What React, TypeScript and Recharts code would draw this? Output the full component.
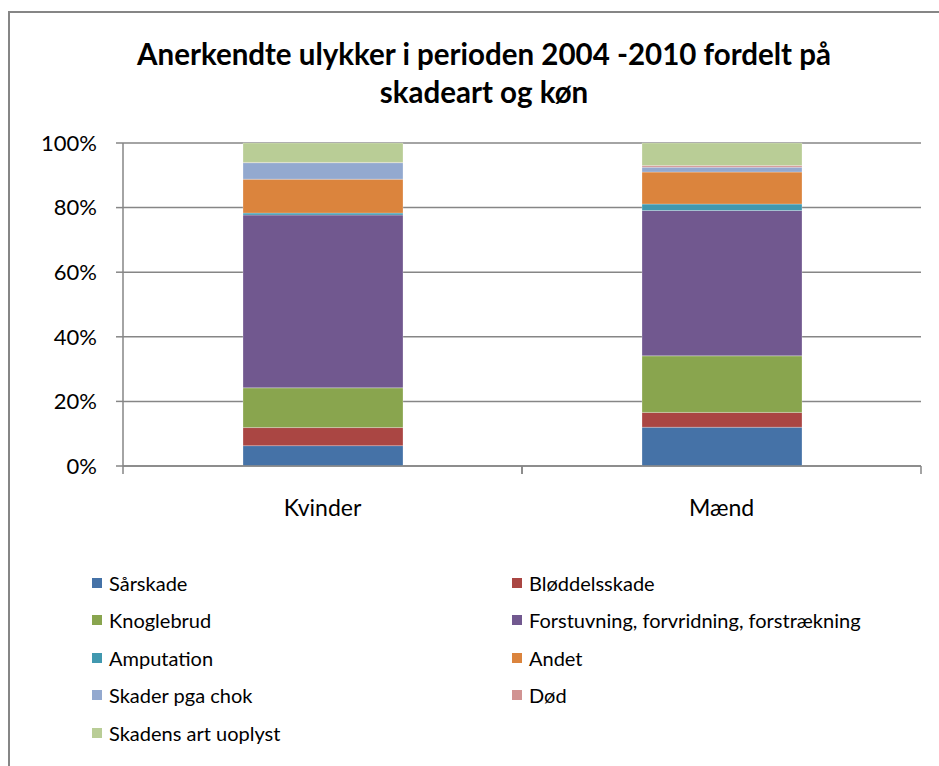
import React from 'react';
import { BarChart, Bar, XAxis, YAxis, CartesianGrid } from 'recharts';

const categories = ['Kvinder', 'Mænd'];
const seriesNames = [
    'Sårskade',
    'Bløddelsskade',
    'Knoglebrud',
    'Forstuvning, forvridning, forstrækning',
    'Amputation',
    'Andet',
    'Skader pga chok',
    'Død',
    'Skadens art uoplyst'
];
const seriesColors = ['#4572A7', '#AA4643', '#89A54E', '#71588F', '#4198AF', '#DB843D', '#93A9CF', '#D19392', '#B9CD96'];
const kvinderValues = [6.3, 5.6, 12.3, 53.5, 0.6, 10.5, 5.1, 0.1, 6.0];
const maendValues = [12.0, 4.6, 17.5, 45.0, 2.0, 9.9, 1.5, 0.5, 7.0];
const yTicks = [0, 0.2, 0.4, 0.6, 0.8, 1];

const W = 939;
const H = 766;
const PLOT_LEFT = 123;
const PLOT_RIGHT = 921;
const PLOT_TOP = 143;
const PLOT_BOTTOM = 466;
const X_AXIS_H = 60;
const Y_AXIS_W = 60;
const FONT = 'Lato, "Open Sans", sans-serif';
const GRAY = '#868686';

const data = categories.map((cat, ci) => {
    const values = ci === 0 ? kvinderValues : maendValues;
    const row: Record<string, string | number> = { cat };
    seriesNames.forEach((name, si) => { row[`s${si}`] = values[si]; });
    return row;
});

function XTick(props: any) {
    const { x, payload } = props;
    const half = (PLOT_RIGHT - PLOT_LEFT) / categories.length / 2;
    return (
        <g>
            <line x1={x - half} x2={x - half} y1={PLOT_BOTTOM} y2={PLOT_BOTTOM + 8} stroke={GRAY} strokeWidth={1.5} />
            <line x1={x + half} x2={x + half} y1={PLOT_BOTTOM} y2={PLOT_BOTTOM + 8} stroke={GRAY} strokeWidth={1.5} />
            <text x={x} y={PLOT_BOTTOM + 50} textAnchor="middle" fontSize={23} fill="#000" fontFamily={FONT}>
                {payload.value}
            </text>
        </g>
    );
}

export default function App(): JSX.Element {
    return (
        <div style={{ position: 'fixed', left: 0, top: 0, width: W, height: H, overflow: 'hidden', background: '#fff', fontFamily: FONT }}>
            <div style={{ position: 'absolute', left: 8, top: 11, width: 1000, height: 1000, borderLeft: `2px solid ${GRAY}`, borderTop: `2px solid ${GRAY}` }} />
            <div style={{ position: 'absolute', left: 34, top: 35, width: 900, textAlign: 'center', fontWeight: 700, fontSize: 29.5, lineHeight: '38px', color: '#000' }}>
                Anerkendte ulykker i perioden 2004 -2010 fordelt på<br />skadeart og køn
            </div>
            <div style={{ position: 'absolute', left: 0, top: 0 }}>
                <BarChart
                    width={W}
                    height={H}
                    data={data}
                    stackOffset="expand"
                    barSize={160}
                    margin={{ top: PLOT_TOP, right: W - PLOT_RIGHT, bottom: H - PLOT_BOTTOM - X_AXIS_H, left: PLOT_LEFT - Y_AXIS_W }}
                >
                    <CartesianGrid vertical={false} stroke={GRAY} strokeWidth={1.5} />
                    <XAxis dataKey="cat" height={X_AXIS_H} tickLine={false} stroke={GRAY} strokeWidth={1.5} tick={<XTick />} interval={0} />
                    <YAxis
                        width={Y_AXIS_W}
                        domain={[0, 1]}
                        ticks={yTicks}
                        tickFormatter={(v: number) => `${Math.round(v * 100)}%`}
                        stroke={GRAY}
                        strokeWidth={1.5}
                        tickSize={7}
                        tickMargin={19}
                        tick={{ fill: '#000', fontSize: 22, fontFamily: FONT }}
                    />
                    {seriesNames.map((name, si) => (
                        <Bar
                            key={name}
                            dataKey={`s${si}`}
                            name={name}
                            stackId="a"
                            fill={seriesColors[si]}
                            stroke="#ffffff"
                            strokeOpacity={0.35}
                            strokeWidth={0.75}
                            isAnimationActive={false}
                        />
                    ))}
                </BarChart>
            </div>
            <div style={{ position: 'absolute', left: 92, top: 564, width: 840, display: 'grid', gridTemplateColumns: '420px 420px', gridAutoRows: '37.5px' }}>
                {seriesNames.map((name, si) => (
                    <div key={name} style={{ display: 'flex', alignItems: 'center', fontSize: 20, color: '#000', whiteSpace: 'nowrap' }}>
                        <span style={{ display: 'inline-block', width: 10, height: 10, background: seriesColors[si], marginRight: 7 }} />
                        {name}
                    </div>
                ))}
            </div>
        </div>
    );
}
